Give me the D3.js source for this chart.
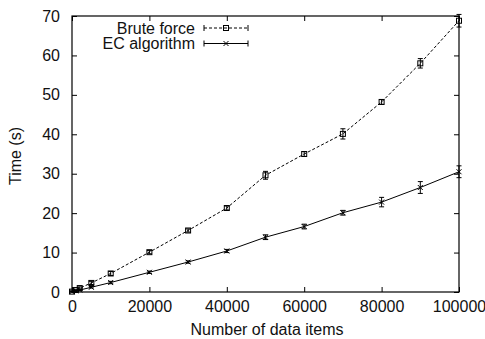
<!DOCTYPE html>
<html>
<head>
<meta charset="utf-8">
<script src="https://cdn.jsdelivr.net/npm/d3@7"></script>
<style>
  body { margin: 0; background: #fff; }
  text { font-family: "Liberation Sans", Arial, sans-serif; fill: #111; }
</style>
</head>
<body>
<div id="chart"></div>
<script>
// data items (x) and timings in seconds
var items = [0, 1000, 2000, 5000, 10000, 20000, 30000, 40000, 50000, 60000, 70000, 80000, 90000, 100000];
var bruteForce = [0.1, 0.5, 1.0, 2.3, 4.7, 10.1, 15.6, 21.3, 29.6, 35.0, 40.1, 48.2, 58.0, 68.8];
var bruteErr = [0.1, 0.2, 0.3, 0.4, 0.5, 0.4, 0.4, 0.5, 1.0, 0.6, 1.3, 0.6, 1.2, 1.6];
var ecAlgo = [0.1, 0.3, 0.5, 1.2, 2.4, 5.0, 7.6, 10.4, 13.9, 16.6, 20.1, 22.8, 26.5, 30.5];
var ecErr = [0.1, 0.1, 0.2, 0.2, 0.3, 0.3, 0.3, 0.4, 0.6, 0.6, 0.6, 1.2, 1.5, 1.5];
var xTicks = [0, 20000, 40000, 60000, 80000, 100000];
var yTicks = [0, 10, 20, 30, 40, 50, 60, 70];

var W = 485, H = 339;
var mLeft = 72, mRight = 459, mTop = 16, mBottom = 292;
var fs = "16px";

var svg = d3.select("#chart").append("svg")
  .attr("width", W)
  .attr("height", H);

var x = d3.scaleLinear().domain([0, 100000]).range([mLeft, mRight]);
var y = d3.scaleLinear().domain([0, 70]).range([mBottom, mTop]);

// axes, gnuplot style: ticks inside, mirrored
var tl = 5;
svg.append("g").attr("transform", "translate(0," + mBottom + ")")
  .call(d3.axisBottom(x).tickValues(xTicks).tickSize(-tl).tickPadding(9).tickFormat(d3.format("d")))
  .call(function(g) { g.select(".domain").remove(); });
svg.append("g").attr("transform", "translate(0," + mTop + ")")
  .call(d3.axisTop(x).tickValues(xTicks).tickSize(-tl).tickFormat(""))
  .call(function(g) { g.select(".domain").remove(); });
svg.append("g").attr("transform", "translate(" + mLeft + ",0)")
  .call(d3.axisLeft(y).tickValues(yTicks).tickSize(-tl).tickPadding(12))
  .call(function(g) { g.select(".domain").remove(); });
svg.append("g").attr("transform", "translate(" + mRight + ",0)")
  .call(d3.axisRight(y).tickValues(yTicks).tickSize(-tl).tickFormat(""))
  .call(function(g) { g.select(".domain").remove(); });

svg.selectAll(".tick line").attr("stroke", "#000");
svg.selectAll(".tick text").style("font-size", fs).attr("fill", "#111");

svg.append("rect")
  .attr("x", mLeft).attr("y", mTop)
  .attr("width", mRight - mLeft).attr("height", mBottom - mTop)
  .attr("fill", "none").attr("stroke", "#000").attr("stroke-width", 1.2);

// axis titles
svg.append("text")
  .attr("x", 267).attr("y", 335)
  .attr("text-anchor", "middle").style("font-size", fs)
  .text("Number of data items");
svg.append("text")
  .attr("transform", "translate(21,156) rotate(-90)")
  .attr("text-anchor", "middle").style("font-size", fs)
  .text("Time (s)");

var series = [
  { name: "Brute force", vals: bruteForce, err: bruteErr, dash: "3,2", marker: "square", ly: 28 },
  { name: "EC algorithm", vals: ecAlgo, err: ecErr, dash: null, marker: "cross", ly: 43.5 }
];

function drawMarker(g, type, cx, cy) {
  if (type == "square") {
    g.append("rect")
      .attr("x", cx - 2.5).attr("y", cy - 2.5)
      .attr("width", 5).attr("height", 5)
      .attr("fill", "none").attr("stroke", "#000").attr("stroke-width", 1);
  } else {
    g.append("path")
      .attr("d", "M" + (cx - 2.5) + "," + (cy - 2.5) + "L" + (cx + 2.5) + "," + (cy + 2.5) +
                 "M" + (cx - 2.5) + "," + (cy + 2.5) + "L" + (cx + 2.5) + "," + (cy - 2.5))
      .attr("stroke", "#000").attr("stroke-width", 1);
  }
}

var line = d3.line().x(function(d, i) { return x(items[i]); }).y(function(d) { return y(d); });

series.forEach(function(s) {
  var g = svg.append("g");
  g.append("path")
    .attr("d", line(s.vals))
    .attr("fill", "none").attr("stroke", "#000").attr("stroke-width", 1)
    .attr("stroke-dasharray", s.dash);

  s.vals.forEach(function(v, i) {
    var cx = x(items[i]);
    var y0 = y(v - s.err[i]), y1 = y(v + s.err[i]);
    g.append("path")
      .attr("d", "M" + cx + "," + y0 + "V" + y1 +
                 "M" + (cx - 2.5) + "," + y0 + "H" + (cx + 2.5) +
                 "M" + (cx - 2.5) + "," + y1 + "H" + (cx + 2.5))
      .attr("stroke", "#000").attr("stroke-width", 1).attr("fill", "none");
    drawMarker(g, s.marker, cx, y(v));
  });

  // legend entry
  svg.append("text")
    .attr("x", 195).attr("y", s.ly + 5.5)
    .attr("text-anchor", "end").style("font-size", fs)
    .text(s.name);
  svg.append("path")
    .attr("d", "M204," + s.ly + "H248")
    .attr("stroke", "#000").attr("stroke-width", 1)
    .attr("stroke-dasharray", s.dash);
  svg.append("path")
    .attr("d", "M204," + (s.ly - 3) + "V" + (s.ly + 3) + "M248," + (s.ly - 3) + "V" + (s.ly + 3))
    .attr("stroke", "#000").attr("stroke-width", 1);
  drawMarker(svg, s.marker, 226, s.ly);
});
</script>
</body>
</html>
